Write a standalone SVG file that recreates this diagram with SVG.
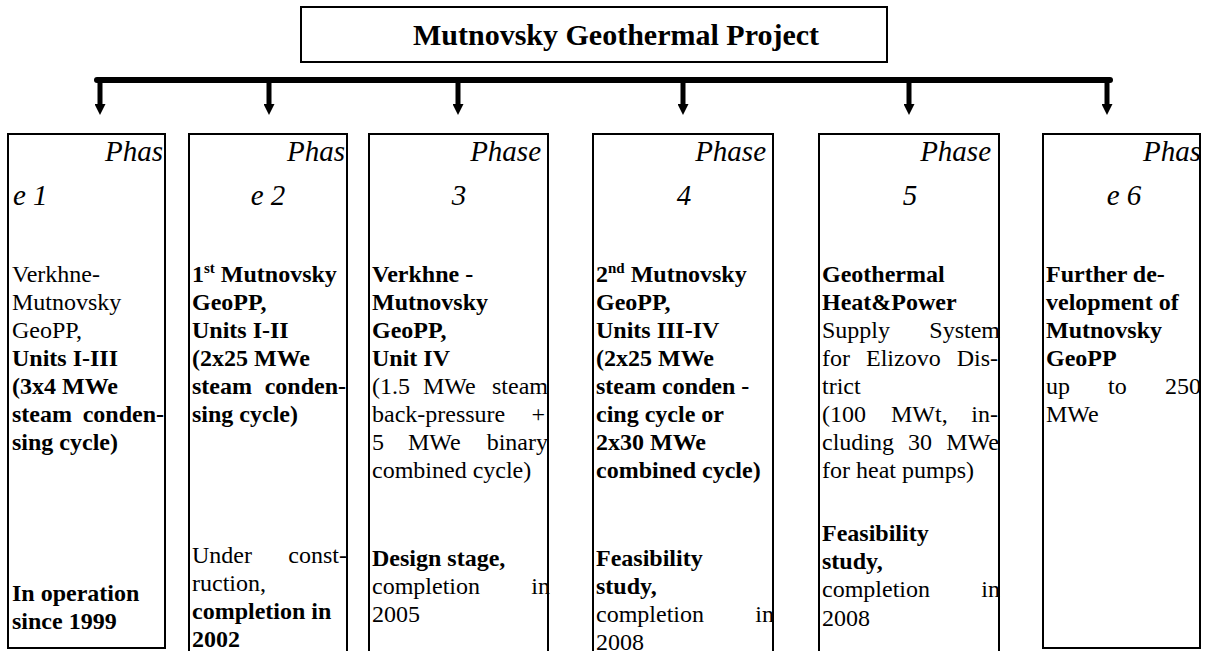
<svg xmlns="http://www.w3.org/2000/svg" width="1208" height="651" viewBox="0 0 1208 651">
<style>
.box{fill:none;stroke:#000;stroke-width:2}
.t{font-family:"Liberation Serif","Times New Roman",serif;font-size:24px;fill:#000}
.h{font-family:"Liberation Serif","Times New Roman",serif;font-size:29px;font-style:italic;fill:#000}
.b{font-weight:bold}
.e{text-anchor:end}
.m{text-anchor:middle}
.conn{stroke:#000;stroke-width:5;fill:none}
</style>
<defs>
<marker id="ah" markerUnits="userSpaceOnUse" viewBox="0 0 11 11" refX="0" refY="5.5" markerWidth="11" markerHeight="11" orient="auto">
<path d="M0,0 L11,5.5 L0,11 z" fill="#000"/>
</marker>
</defs>
<rect width="1208" height="651" fill="#fff"/>

<g id="title">
<rect class="box" x="301" y="7" width="586" height="55"/>
<text class="t b" x="413" y="45" style="font-size:30px">Mutnovsky Geothermal Project</text>
</g>

<g id="connectors">
<line x1="97" y1="80" x2="1110" y2="80" stroke="#000" stroke-width="6" stroke-linecap="round"/>
<line class="conn" x1="100" y1="80" x2="100" y2="104" marker-end="url(#ah)"/>
<line class="conn" x1="269" y1="80" x2="269" y2="104" marker-end="url(#ah)"/>
<line class="conn" x1="458" y1="80" x2="458" y2="104" marker-end="url(#ah)"/>
<line class="conn" x1="683" y1="80" x2="683" y2="104" marker-end="url(#ah)"/>
<line class="conn" x1="909" y1="80" x2="909" y2="104" marker-end="url(#ah)"/>
<line class="conn" x1="1107" y1="80" x2="1107" y2="104" marker-end="url(#ah)"/>
</g>

<g id="phase1">
<rect class="box" x="8" y="134" width="157" height="514"/>
<text class="h e" x="163" y="161">Phas</text>
<text class="h" x="13" y="205">e 1</text>
<text class="t" x="12" y="282">Verkhne-</text>
<text class="t" x="12" y="310">Mutnovsky</text>
<text class="t" x="12" y="338">GeoPP,</text>
<text class="t b" x="12" y="366">Units I-III</text>
<text class="t b" x="12" y="394">(3x4 MWe</text>
<text class="t b" x="12" y="422">steam</text>
<text class="t b e" x="164" y="422">conden-</text>
<text class="t b" x="12" y="450">sing cycle)</text>
<text class="t b" x="12" y="601">In operation</text>
<text class="t b" x="12" y="629">since 1999</text>
</g>

<g id="phase2">
<rect class="box" x="189" y="134" width="158" height="530"/>
<text class="h e" x="345" y="161">Phas</text>
<text class="h m" x="268" y="205">e 2</text>
<text class="t b" x="192" y="282">1<tspan style="font-size:15px" dy="-9">st</tspan><tspan dy="9"> Mutnovsky</tspan></text>
<text class="t b" x="192" y="310">GeoPP,</text>
<text class="t b" x="192" y="338">Units I-II</text>
<text class="t b" x="192" y="366">(2x25 MWe</text>
<text class="t b" x="192" y="394">steam</text>
<text class="t b e" x="346" y="394">conden-</text>
<text class="t b" x="192" y="422">sing cycle)</text>
<text class="t" x="192" y="563">Under</text>
<text class="t e" x="347" y="563">const-</text>
<text class="t" x="192" y="591">ruction,</text>
<text class="t b" x="192" y="619">completion in</text>
<text class="t b" x="192" y="647">2002</text>
</g>

<g id="phase3">
<rect class="box" x="369" y="134" width="179" height="530"/>
<text class="h e" x="541" y="161">Phase</text>
<text class="h m" x="459" y="205">3</text>
<text class="t b" x="372" y="282">Verkhne -</text>
<text class="t b" x="372" y="310">Mutnovsky</text>
<text class="t b" x="372" y="338">GeoPP,</text>
<text class="t b" x="372" y="366">Unit IV</text>
<text class="t" x="372" y="394">(1.5</text>
<text class="t" x="423" y="394">MWe</text>
<text class="t e" x="548" y="394">steam</text>
<text class="t" x="372" y="422">back-pressure</text>
<text class="t e" x="545" y="422">+</text>
<text class="t" x="372" y="450">5</text>
<text class="t" x="408" y="450">MWe</text>
<text class="t e" x="548" y="450">binary</text>
<text class="t" x="372" y="478">combined cycle)</text>
<text class="t b" x="372" y="566">Design stage,</text>
<text class="t" x="372" y="594">completion</text>
<text class="t e" x="550" y="594">in</text>
<text class="t" x="372" y="622">2005</text>
</g>

<g id="phase4">
<rect class="box" x="593" y="134" width="180" height="530"/>
<text class="h e" x="766" y="161">Phase</text>
<text class="h m" x="684" y="205">4</text>
<text class="t b" x="596" y="282">2<tspan style="font-size:15px" dy="-9">nd</tspan><tspan dy="9"> Mutnovsky</tspan></text>
<text class="t b" x="596" y="310">GeoPP,</text>
<text class="t b" x="596" y="338">Units III-IV</text>
<text class="t b" x="596" y="366">(2x25 MWe</text>
<text class="t b" x="596" y="394">steam conden -</text>
<text class="t b" x="596" y="422">cing cycle or</text>
<text class="t b" x="596" y="450">2x30 MWe</text>
<text class="t b" x="596" y="478">combined cycle)</text>
<text class="t b" x="596" y="566">Feasibility</text>
<text class="t b" x="596" y="594">study,</text>
<text class="t" x="596" y="622">completion</text>
<text class="t e" x="774" y="622">in</text>
<text class="t" x="596" y="650">2008</text>
</g>

<g id="phase5">
<rect class="box" x="819" y="134" width="180" height="530"/>
<text class="h e" x="991" y="161">Phase</text>
<text class="h m" x="910" y="205">5</text>
<text class="t b" x="822" y="282">Geothermal</text>
<text class="t b" x="822" y="310">Heat&amp;Power</text>
<text class="t" x="822" y="338">Supply</text>
<text class="t e" x="1000" y="338">System</text>
<text class="t" x="822" y="366">for</text>
<text class="t" x="866" y="366">Elizovo</text>
<text class="t e" x="998" y="366">Dis-</text>
<text class="t" x="822" y="394">trict</text>
<text class="t" x="822" y="422">(100</text>
<text class="t" x="891" y="422">MWt,</text>
<text class="t e" x="998" y="422">in-</text>
<text class="t" x="822" y="450">cluding</text>
<text class="t" x="908" y="450">30</text>
<text class="t e" x="999" y="450">MWe</text>
<text class="t" x="822" y="478">for heat pumps)</text>
<text class="t b" x="822" y="541">Feasibility</text>
<text class="t b" x="822" y="569">study,</text>
<text class="t" x="822" y="597">completion</text>
<text class="t e" x="1000" y="597">in</text>
<text class="t" x="822" y="626">2008</text>
</g>

<g id="phase6">
<rect class="box" x="1043" y="134" width="157" height="514"/>
<text class="h e" x="1201" y="161">Phas</text>
<text class="h m" x="1124" y="205">e 6</text>
<text class="t b" x="1046" y="282">Further de-</text>
<text class="t b" x="1046" y="310">velopment of</text>
<text class="t b" x="1046" y="338">Mutnovsky</text>
<text class="t b" x="1046" y="366">GeoPP</text>
<text class="t" x="1046" y="394">up</text>
<text class="t" x="1108" y="394">to</text>
<text class="t e" x="1201" y="394">250</text>
<text class="t" x="1046" y="422">MWe</text>
</g>
</svg>
